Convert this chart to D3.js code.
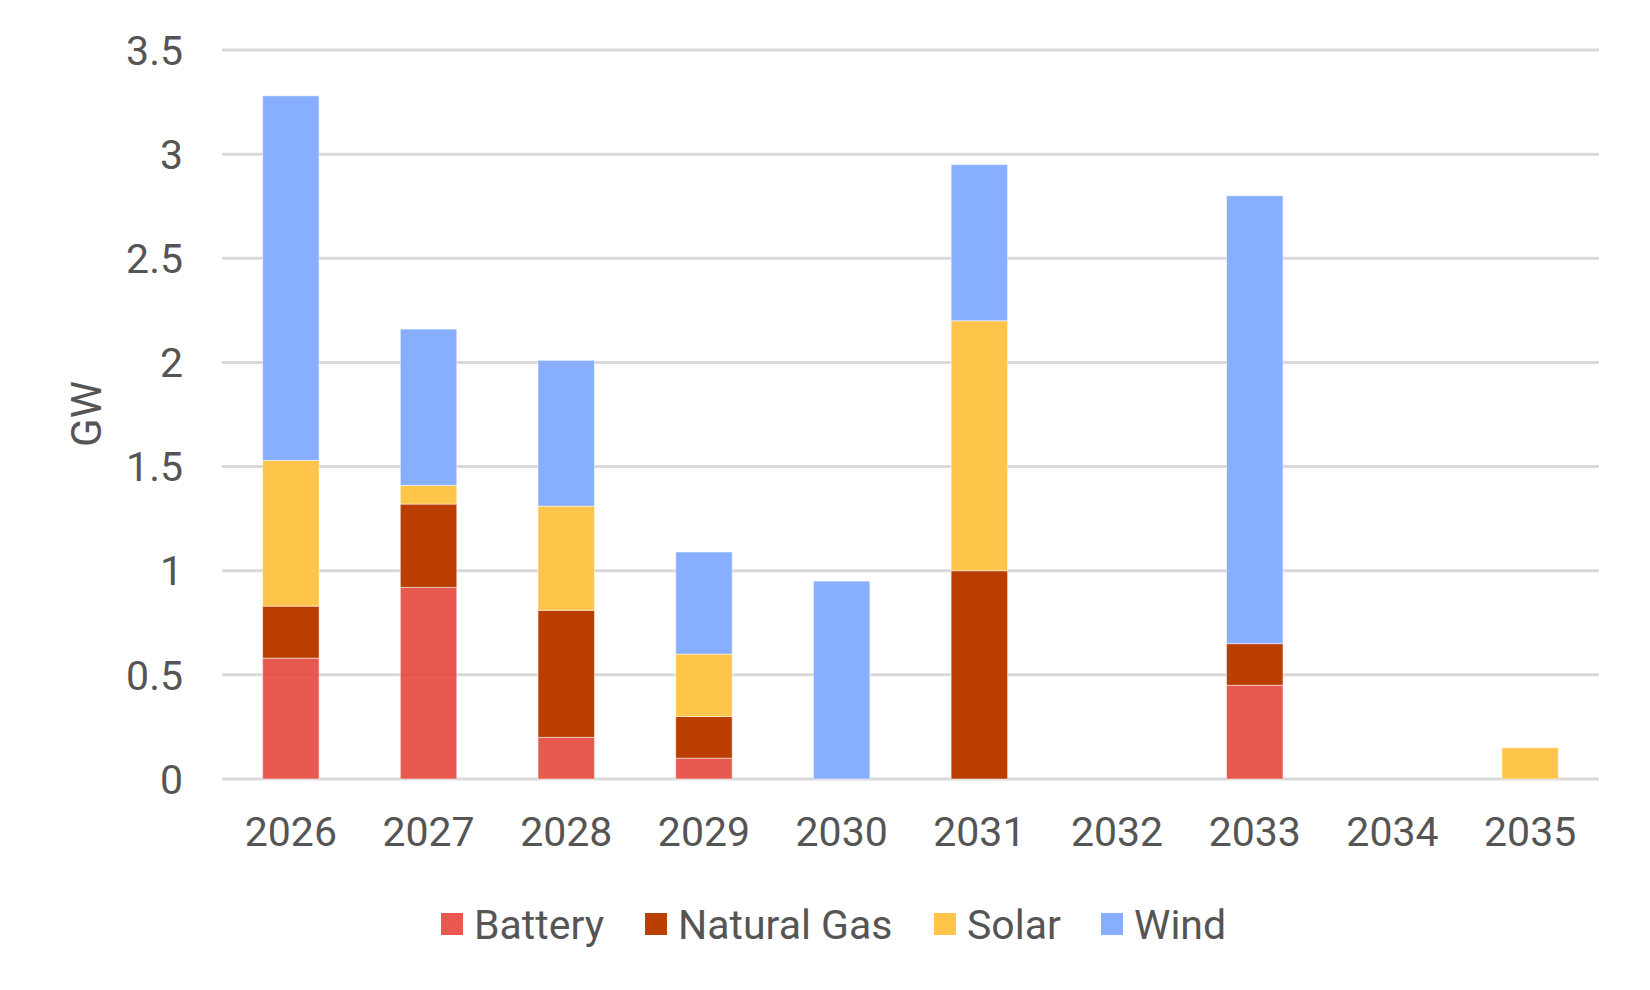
<!DOCTYPE html>
<html lang="en">
  <head>
    <meta charset="utf-8">
    <title>GW by year</title>
    <script src="https://d3js.org/d3.v7.min.js"></script>
    <style>
      body { margin: 0; background: #fff; }
      text { font-family: Roboto, "Noto Sans", sans-serif; fill: #555; }
    </style>
  </head>
  <body>
    <svg id="chart" width="1650" height="990"></svg>
    <script>
      const years = ['2026','2027','2028','2029','2030','2031','2032','2033','2034','2035'];
      const battery    = [0.58, 0.92, 0.20, 0.10, 0,    0,    0, 0.45, 0, 0];
      const naturalGas = [0.25, 0.40, 0.61, 0.20, 0,    1.00, 0, 0.20, 0, 0];
      const solar      = [0.70, 0.09, 0.50, 0.30, 0,    1.20, 0, 0,    0, 0.15];
      const wind       = [1.75, 0.75, 0.70, 0.49, 0.95, 0.75, 0, 2.15, 0, 0];
      const seriesNames = ['Battery', 'Natural Gas', 'Solar', 'Wind'];
      const colors = ['#e6483c', '#b93e00', '#ffc44a', '#88afff'];
      const yTicks = [0, 0.5, 1, 1.5, 2, 2.5, 3, 3.5];

      const svg = d3.select('#chart');
      const x = d3.scaleBand().domain(years).range([222, 1599]).paddingInner(0.59).paddingOuter(0.295);
      const y = d3.scaleLinear().domain([0, 3.5]).range([779, 50]);

      // gridlines
      svg.append('g')
        .selectAll('line')
        .data(yTicks)
        .join('line')
        .attr('x1', 222).attr('x2', 1599)
        .attr('y1', d => y(d)).attr('y2', d => y(d))
        .attr('stroke', '#d9d9d9')
        .attr('stroke-width', 3);

      // y labels
      svg.append('g')
        .selectAll('text')
        .data(yTicks)
        .join('text')
        .attr('x', 183)
        .attr('y', d => y(d))
        .attr('dy', '0.36em')
        .attr('text-anchor', 'end')
        .attr('font-size', 41)
        .text(d => d);

      const table = years.map((yr, i) => ({
        year: yr, Battery: battery[i], 'Natural Gas': naturalGas[i], Solar: solar[i], Wind: wind[i]
      }));
      const stacked = d3.stack().keys(seriesNames)(table);

      svg.append('g')
        .selectAll('g')
        .data(stacked)
        .join('g')
        .attr('fill', (d, i) => colors[i])
        .attr('fill-opacity', (d, i) => i === 0 ? 0.9 : 1)
        .selectAll('rect')
        .data(d => d.filter(p => p[1] - p[0] > 0))
        .join('rect')
        .attr('x', d => x(d.data.year))
        .attr('width', x.bandwidth())
        .attr('y', d => y(d[1]))
        .attr('height', d => y(d[0]) - y(d[1]))
        .attr('stroke', 'rgba(255,255,255,0.5)')
        .attr('stroke-width', 1);

      // x labels
      svg.append('g')
        .selectAll('text')
        .data(years)
        .join('text')
        .attr('x', d => x(d) + x.bandwidth() / 2)
        .attr('y', 846)
        .attr('text-anchor', 'middle')
        .attr('font-size', 41)
        .text(d => d);

      // axis title
      svg.append('text')
        .attr('transform', 'translate(101,414) rotate(-90)')
        .attr('text-anchor', 'middle')
        .attr('font-size', 42)
        .text('GW');

      // legend
      const legendX = [441, 645, 934, 1101];
      const legend = svg.append('g')
        .selectAll('g')
        .data(seriesNames)
        .join('g')
        .attr('transform', (d, i) => `translate(${legendX[i]},913)`);
      legend.append('rect')
        .attr('width', 22).attr('height', 22)
        .attr('fill', (d, i) => colors[i])
        .attr('fill-opacity', (d, i) => i === 0 ? 0.9 : 1);
      legend.append('text')
        .attr('x', 33).attr('y', 11).attr('dy', '0.36em')
        .attr('font-size', 41)
        .text(d => d);
    </script>
  </body>
</html>
